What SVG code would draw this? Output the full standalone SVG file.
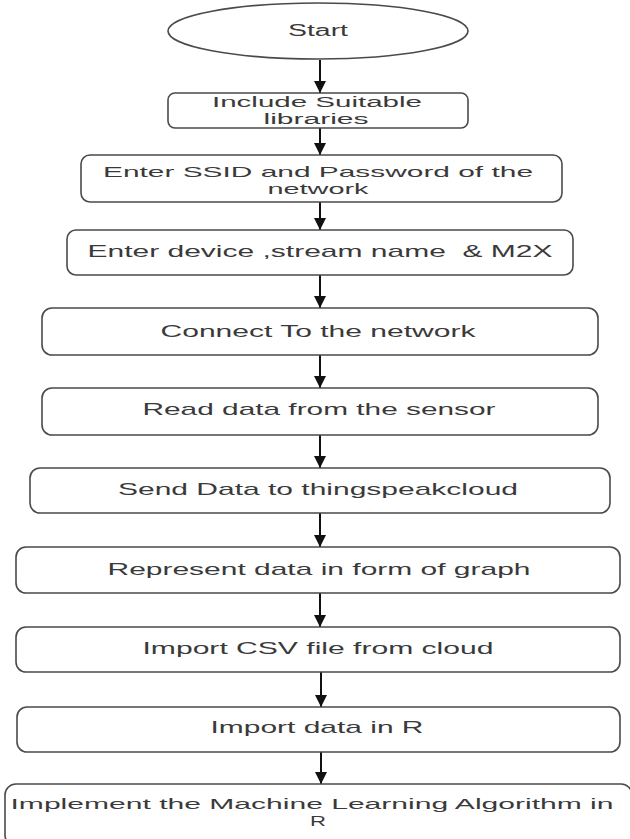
<svg xmlns="http://www.w3.org/2000/svg" width="630" height="839" viewBox="0 0 630 839">
<style>
.box{fill:#fff;stroke:#4a4a4a;stroke-width:1.6}
.t{font-family:"Liberation Sans",Arial,sans-serif;font-size:17px;fill:#3a3a3a;text-anchor:middle}
.t2{font-size:15px}
.c{stroke:#111;stroke-width:2;fill:none}
</style>
<defs>
<marker id="ah" markerUnits="userSpaceOnUse" markerWidth="14" markerHeight="12" refX="12" refY="6" orient="auto">
<path d="M0,0 L12,6 L0,12 Z" fill="#111"/>
</marker>
</defs>
<rect width="630" height="839" fill="#fff"/>
<g id="connectors">
<path class="c" d="M320,60 V93" marker-end="url(#ah)"/>
<path class="c" d="M320,128 V155" marker-end="url(#ah)"/>
<path class="c" d="M320,202 V230" marker-end="url(#ah)"/>
<path class="c" d="M320,275 V308" marker-end="url(#ah)"/>
<path class="c" d="M320,355 V388" marker-end="url(#ah)"/>
<path class="c" d="M320,435 V468" marker-end="url(#ah)"/>
<path class="c" d="M320,513 V547" marker-end="url(#ah)"/>
<path class="c" d="M320,593 V627" marker-end="url(#ah)"/>
<path class="c" d="M321,672 V707" marker-end="url(#ah)"/>
<path class="c" d="M321,752 V784" marker-end="url(#ah)"/>
</g>
<g id="start">
<ellipse class="box" cx="318" cy="31" rx="150" ry="28"/>
<text class="t" x="318" y="36" textLength="60" lengthAdjust="spacingAndGlyphs" style="font-size:16px">Start</text>
</g>
<g id="include">
<rect class="box" x="168" y="93" width="300" height="35" rx="7"/>
<text class="t" x="317" y="107" textLength="210" lengthAdjust="spacingAndGlyphs" style="font-size:14px">Include Suitable</text>
<text class="t" x="316" y="124" textLength="105" lengthAdjust="spacingAndGlyphs" style="font-size:14px">libraries</text>
</g>
<g id="ssid">
<rect class="box" x="81" y="155" width="481" height="47" rx="9"/>
<text class="t t2" x="318" y="177" textLength="430" lengthAdjust="spacingAndGlyphs">Enter SSID and Password of the</text>
<text class="t t2" x="318" y="194" textLength="101" lengthAdjust="spacingAndGlyphs">network</text>
</g>
<g id="device">
<rect class="box" x="67" y="230" width="506" height="45" rx="9"/>
<text class="t" x="320" y="257" textLength="465" lengthAdjust="spacingAndGlyphs" xml:space="preserve">Enter device ,stream name  &amp; M2X</text>
</g>
<g id="connect">
<rect class="box" x="42" y="308" width="556" height="47" rx="10"/>
<text class="t" x="318" y="337" textLength="315" lengthAdjust="spacingAndGlyphs">Connect To the network</text>
</g>
<g id="read">
<rect class="box" x="42" y="388" width="556" height="47" rx="10"/>
<text class="t" x="319" y="415" textLength="353" lengthAdjust="spacingAndGlyphs">Read data from the sensor</text>
</g>
<g id="send">
<rect class="box" x="30" y="468" width="580" height="45" rx="10"/>
<text class="t" x="318" y="495" textLength="400" lengthAdjust="spacingAndGlyphs">Send Data to thingspeakcloud</text>
</g>
<g id="represent">
<rect class="box" x="16" y="547" width="604" height="46" rx="10"/>
<text class="t" x="319" y="575" textLength="423" lengthAdjust="spacingAndGlyphs">Represent data in form of graph</text>
</g>
<g id="csv">
<rect class="box" x="16" y="627" width="604" height="45" rx="10"/>
<text class="t" x="318" y="654" textLength="351" lengthAdjust="spacingAndGlyphs">Import CSV file from cloud</text>
</g>
<g id="importr">
<rect class="box" x="17" y="707" width="603" height="45" rx="10"/>
<text class="t" x="317" y="733" textLength="213" lengthAdjust="spacingAndGlyphs">Import data in R</text>
</g>
<g id="implement">
<rect class="box" x="5" y="784" width="627" height="62" rx="11"/>
<text class="t t2" x="312" y="809" textLength="603" lengthAdjust="spacingAndGlyphs">Implement the Machine Learning Algorithm in</text>
<text class="t t2" x="318" y="826" textLength="16" lengthAdjust="spacingAndGlyphs">R</text>
</g>
</svg>
